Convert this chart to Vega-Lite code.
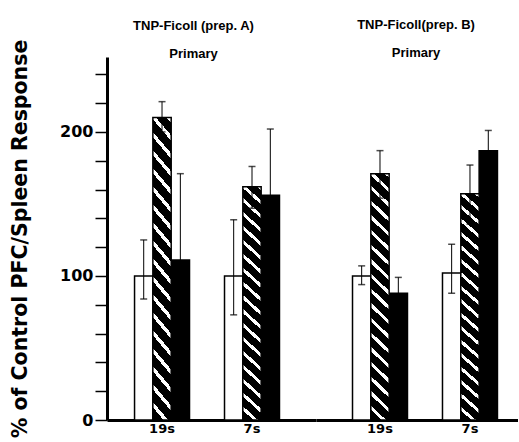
{
  "$schema": "https://vega.github.io/schema/vega-lite/v6.json",
  "autosize": {"type": "pad"},
  "padding": {"left": 10, "top": 19, "right": 0, "bottom": 0},
  "spacing": 0,
  "config": {
    "view": {"stroke": null},
    "font": "DejaVu Sans",
    "concat": {"spacing": 0},
    "axisX": {"domainWidth": 3, "domainColor": "black", "ticks": false, "labelFontSize": 13, "labelFontWeight": "bold", "labelColor": "black", "labelPadding": 2, "labelAngle": 0, "title": null},
    "axisY": {"domainWidth": 3, "domainColor": "black", "tickColor": "black", "tickWidth": 1.5, "tickSize": 12, "labelFontSize": 16, "labelFontWeight": "bold", "labelColor": "black", "labelPadding": 2, "grid": false, "values": [0, 50, 100, 150, 200, 250], "labelExpr": "datum.value % 100 === 0 ? datum.label : ''", "titleFontSize": 20.5, "titleFontWeight": "bold", "titleColor": "black", "titlePadding": 29.5},
    "title": {"font": "Liberation Sans", "fontSize": 13, "fontWeight": "bold", "color": "black", "lineHeight": 28, "offset": -3, "anchor": "middle", "frame": "group"}
  },
  "datasets": {
    "pfc": [
      {"prep": "A", "fraction": "19s", "treatment": "control", "value": 100, "lower": 84, "upper": 125},
      {"prep": "A", "fraction": "19s", "treatment": "striped", "value": 210, "lower": 200, "upper": 221},
      {"prep": "A", "fraction": "19s", "treatment": "solid", "value": 111, "lower": 51, "upper": 171},
      {"prep": "A", "fraction": "7s", "treatment": "control", "value": 100, "lower": 73, "upper": 139},
      {"prep": "A", "fraction": "7s", "treatment": "striped", "value": 162, "lower": 147, "upper": 176},
      {"prep": "A", "fraction": "7s", "treatment": "solid", "value": 156, "lower": 110, "upper": 202},
      {"prep": "B", "fraction": "19s", "treatment": "control", "value": 100, "lower": 94, "upper": 107},
      {"prep": "B", "fraction": "19s", "treatment": "striped", "value": 171, "lower": 154, "upper": 187},
      {"prep": "B", "fraction": "19s", "treatment": "solid", "value": 88, "lower": 76, "upper": 99},
      {"prep": "B", "fraction": "7s", "treatment": "control", "value": 102, "lower": 88, "upper": 122},
      {"prep": "B", "fraction": "7s", "treatment": "striped", "value": 157, "lower": 136, "upper": 177},
      {"prep": "B", "fraction": "7s", "treatment": "solid", "value": 187, "lower": 172, "upper": 201}
    ]
  },
  "hconcat": [
    {
      "width": 209,
      "height": 363,
      "title": {"text": ["TNP-Ficoll (prep. A)", "Primary"], "dx": -18, "offset": -22},
      "data": {"name": "pfc"},
      "transform": [{"filter": "datum.prep === 'A'"}],
      "encoding": {
        "x": {"field": "fraction", "type": "nominal", "sort": ["19s", "7s"], "scale": {"paddingInner": 0.389, "paddingOuter": 0.356, "align": 0.43}},
        "xOffset": {"field": "treatment", "type": "nominal", "scale": {"domain": ["control", "striped", "solid"], "paddingInner": 0, "paddingOuter": 0}}
      },
      "layer": [
        {
          "transform": [{"filter": "datum.treatment !== 'striped'"}],
          "mark": {"type": "bar", "stroke": "black", "strokeWidth": 1.5},
          "encoding": {
            "y": {"field": "value", "type": "quantitative", "scale": {"domain": [0, 252], "nice": false}, "title": "% of Control PFC/Spleen Response"},
            "fill": {"condition": {"test": "datum.treatment === 'control'", "value": "white"}, "value": "black"}
          }
        },
        {
          "transform": [{"filter": "datum.treatment === 'striped'"}],
          "mark": {"type": "bar", "stroke": "black", "strokeWidth": 1.5,
            "fill": {"gradient": "linear", "x1": 0, "y1": 1, "x2": 0.076, "y2": -0.066, "stops": [
              {"offset": 0, "color": "black"}, {"offset": 0.0389, "color": "black"}, {"offset": 0.0389, "color": "white"}, {"offset": 0.0556, "color": "white"},
              {"offset": 0.0556, "color": "black"}, {"offset": 0.0944, "color": "black"}, {"offset": 0.0944, "color": "white"}, {"offset": 0.1111, "color": "white"},
              {"offset": 0.1111, "color": "black"}, {"offset": 0.15, "color": "black"}, {"offset": 0.15, "color": "white"}, {"offset": 0.1667, "color": "white"},
              {"offset": 0.1667, "color": "black"}, {"offset": 0.2056, "color": "black"}, {"offset": 0.2056, "color": "white"}, {"offset": 0.2222, "color": "white"},
              {"offset": 0.2222, "color": "black"}, {"offset": 0.2611, "color": "black"}, {"offset": 0.2611, "color": "white"}, {"offset": 0.2778, "color": "white"},
              {"offset": 0.2778, "color": "black"}, {"offset": 0.3167, "color": "black"}, {"offset": 0.3167, "color": "white"}, {"offset": 0.3333, "color": "white"},
              {"offset": 0.3333, "color": "black"}, {"offset": 0.3722, "color": "black"}, {"offset": 0.3722, "color": "white"}, {"offset": 0.3889, "color": "white"},
              {"offset": 0.3889, "color": "black"}, {"offset": 0.4278, "color": "black"}, {"offset": 0.4278, "color": "white"}, {"offset": 0.4444, "color": "white"},
              {"offset": 0.4444, "color": "black"}, {"offset": 0.4833, "color": "black"}, {"offset": 0.4833, "color": "white"}, {"offset": 0.5, "color": "white"},
              {"offset": 0.5, "color": "black"}, {"offset": 0.5389, "color": "black"}, {"offset": 0.5389, "color": "white"}, {"offset": 0.5556, "color": "white"},
              {"offset": 0.5556, "color": "black"}, {"offset": 0.5944, "color": "black"}, {"offset": 0.5944, "color": "white"}, {"offset": 0.6111, "color": "white"},
              {"offset": 0.6111, "color": "black"}, {"offset": 0.65, "color": "black"}, {"offset": 0.65, "color": "white"}, {"offset": 0.6667, "color": "white"},
              {"offset": 0.6667, "color": "black"}, {"offset": 0.7056, "color": "black"}, {"offset": 0.7056, "color": "white"}, {"offset": 0.7222, "color": "white"},
              {"offset": 0.7222, "color": "black"}, {"offset": 0.7611, "color": "black"}, {"offset": 0.7611, "color": "white"}, {"offset": 0.7778, "color": "white"},
              {"offset": 0.7778, "color": "black"}, {"offset": 0.8167, "color": "black"}, {"offset": 0.8167, "color": "white"}, {"offset": 0.8333, "color": "white"},
              {"offset": 0.8333, "color": "black"}, {"offset": 0.8722, "color": "black"}, {"offset": 0.8722, "color": "white"}, {"offset": 0.8889, "color": "white"},
              {"offset": 0.8889, "color": "black"}, {"offset": 0.9278, "color": "black"}, {"offset": 0.9278, "color": "white"}, {"offset": 0.9444, "color": "white"},
              {"offset": 0.9444, "color": "black"}, {"offset": 0.9833, "color": "black"}, {"offset": 0.9833, "color": "white"}, {"offset": 1, "color": "white"}
            ]}},
          "encoding": {
            "y": {"field": "value", "type": "quantitative", "title": "% of Control PFC/Spleen Response"}
          }
        },
        {
          "mark": {"type": "rule", "color": "black", "strokeWidth": 1},
          "encoding": {
            "y": {"field": "lower", "type": "quantitative", "title": "% of Control PFC/Spleen Response"},
            "y2": {"field": "upper"}
          }
        },
        {
          "mark": {"type": "tick", "color": "black", "size": 7, "thickness": 1.5},
          "encoding": {"y": {"field": "upper", "type": "quantitative", "title": "% of Control PFC/Spleen Response"}}
        },
        {
          "mark": {"type": "tick", "color": "black", "size": 7, "thickness": 1.5},
          "encoding": {"y": {"field": "lower", "type": "quantitative", "title": "% of Control PFC/Spleen Response"}}
        }
      ]
    },
    {
      "width": 202,
      "height": 363,
      "title": {"text": ["TNP-Ficoll(prep. B)", "Primary"], "dx": -1},
      "data": {"name": "pfc"},
      "transform": [{"filter": "datum.prep === 'B'"}],
      "encoding": {
        "x": {"field": "fraction", "type": "nominal", "sort": ["19s", "7s"], "scale": {"paddingInner": 0.389, "paddingOuter": 0.317, "align": 0.64}},
        "xOffset": {"field": "treatment", "type": "nominal", "scale": {"domain": ["control", "striped", "solid"], "paddingInner": 0, "paddingOuter": 0}}
      },
      "layer": [
        {
          "transform": [{"filter": "datum.treatment !== 'striped'"}],
          "mark": {"type": "bar", "stroke": "black", "strokeWidth": 1.5},
          "encoding": {
            "y": {"field": "value", "type": "quantitative", "scale": {"domain": [0, 252], "nice": false}, "axis": null},
            "fill": {"condition": {"test": "datum.treatment === 'control'", "value": "white"}, "value": "black"}
          }
        },
        {
          "transform": [{"filter": "datum.treatment === 'striped'"}],
          "mark": {"type": "bar", "stroke": "black", "strokeWidth": 1.5,
            "fill": {"gradient": "linear", "x1": 0, "y1": 1, "x2": 0.076, "y2": -0.066, "stops": [
              {"offset": 0, "color": "black"}, {"offset": 0.0389, "color": "black"}, {"offset": 0.0389, "color": "white"}, {"offset": 0.0556, "color": "white"},
              {"offset": 0.0556, "color": "black"}, {"offset": 0.0944, "color": "black"}, {"offset": 0.0944, "color": "white"}, {"offset": 0.1111, "color": "white"},
              {"offset": 0.1111, "color": "black"}, {"offset": 0.15, "color": "black"}, {"offset": 0.15, "color": "white"}, {"offset": 0.1667, "color": "white"},
              {"offset": 0.1667, "color": "black"}, {"offset": 0.2056, "color": "black"}, {"offset": 0.2056, "color": "white"}, {"offset": 0.2222, "color": "white"},
              {"offset": 0.2222, "color": "black"}, {"offset": 0.2611, "color": "black"}, {"offset": 0.2611, "color": "white"}, {"offset": 0.2778, "color": "white"},
              {"offset": 0.2778, "color": "black"}, {"offset": 0.3167, "color": "black"}, {"offset": 0.3167, "color": "white"}, {"offset": 0.3333, "color": "white"},
              {"offset": 0.3333, "color": "black"}, {"offset": 0.3722, "color": "black"}, {"offset": 0.3722, "color": "white"}, {"offset": 0.3889, "color": "white"},
              {"offset": 0.3889, "color": "black"}, {"offset": 0.4278, "color": "black"}, {"offset": 0.4278, "color": "white"}, {"offset": 0.4444, "color": "white"},
              {"offset": 0.4444, "color": "black"}, {"offset": 0.4833, "color": "black"}, {"offset": 0.4833, "color": "white"}, {"offset": 0.5, "color": "white"},
              {"offset": 0.5, "color": "black"}, {"offset": 0.5389, "color": "black"}, {"offset": 0.5389, "color": "white"}, {"offset": 0.5556, "color": "white"},
              {"offset": 0.5556, "color": "black"}, {"offset": 0.5944, "color": "black"}, {"offset": 0.5944, "color": "white"}, {"offset": 0.6111, "color": "white"},
              {"offset": 0.6111, "color": "black"}, {"offset": 0.65, "color": "black"}, {"offset": 0.65, "color": "white"}, {"offset": 0.6667, "color": "white"},
              {"offset": 0.6667, "color": "black"}, {"offset": 0.7056, "color": "black"}, {"offset": 0.7056, "color": "white"}, {"offset": 0.7222, "color": "white"},
              {"offset": 0.7222, "color": "black"}, {"offset": 0.7611, "color": "black"}, {"offset": 0.7611, "color": "white"}, {"offset": 0.7778, "color": "white"},
              {"offset": 0.7778, "color": "black"}, {"offset": 0.8167, "color": "black"}, {"offset": 0.8167, "color": "white"}, {"offset": 0.8333, "color": "white"},
              {"offset": 0.8333, "color": "black"}, {"offset": 0.8722, "color": "black"}, {"offset": 0.8722, "color": "white"}, {"offset": 0.8889, "color": "white"},
              {"offset": 0.8889, "color": "black"}, {"offset": 0.9278, "color": "black"}, {"offset": 0.9278, "color": "white"}, {"offset": 0.9444, "color": "white"},
              {"offset": 0.9444, "color": "black"}, {"offset": 0.9833, "color": "black"}, {"offset": 0.9833, "color": "white"}, {"offset": 1, "color": "white"}
            ]}},
          "encoding": {
            "y": {"field": "value", "type": "quantitative", "axis": null}
          }
        },
        {
          "mark": {"type": "rule", "color": "black", "strokeWidth": 1},
          "encoding": {
            "y": {"field": "lower", "type": "quantitative", "axis": null},
            "y2": {"field": "upper"}
          }
        },
        {
          "mark": {"type": "tick", "color": "black", "size": 7, "thickness": 1.5},
          "encoding": {"y": {"field": "upper", "type": "quantitative", "axis": null}}
        },
        {
          "mark": {"type": "tick", "color": "black", "size": 7, "thickness": 1.5},
          "encoding": {"y": {"field": "lower", "type": "quantitative", "axis": null}}
        }
      ]
    }
  ]
}
